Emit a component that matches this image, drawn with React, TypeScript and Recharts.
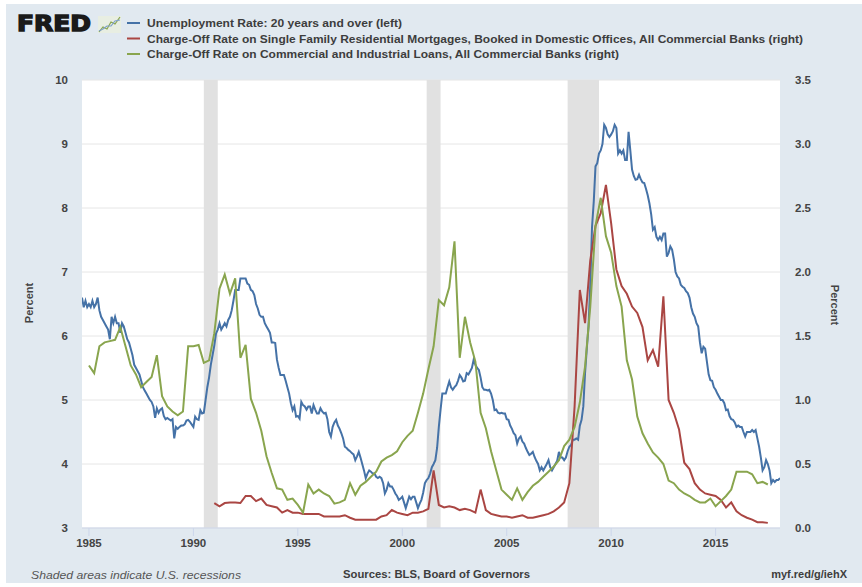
import { LineChart, Line, XAxis, YAxis, CartesianGrid, ReferenceArea } from 'recharts';

// Unemployment rate, 20 years and over (monthly, Sep 1984 - Feb 2018), percent
const unemployment = [
  // 1984 Sep-Dec
  6.6, 6.45, 6.55, 6.45,
  // 1985
  6.5, 6.45, 6.55, 6.45, 6.5, 6.6, 6.4, 6.3, 6.25, 6.2, 6.15, 6.1,
  // 1986
  5.95, 6.3, 6.2, 6.3, 6.2, 6.2, 6.05, 6.2, 6.15, 6.05, 5.95, 5.9,
  // 1987
  5.8, 5.7, 5.55, 5.5, 5.45, 5.4, 5.3, 5.2, 5.15, 5.1, 5.05, 5.0,
  // 1988
  4.97, 4.9, 4.72, 4.87, 4.8, 4.85, 4.87, 4.75, 4.7, 4.72, 4.7, 4.68,
  // 1989
  4.7, 4.4, 4.58, 4.55, 4.58, 4.6, 4.6, 4.62, 4.68, 4.69, 4.66, 4.62,
  // 1990
  4.58, 4.74, 4.7, 4.69, 4.84, 4.79, 4.8, 5.0, 5.2, 5.35, 5.55, 5.7,
  // 1991
  5.85, 6.04, 6.1, 6.2, 6.1, 6.15, 6.2, 6.15, 6.25, 6.3, 6.4, 6.55,
  // 1992
  6.72, 6.72, 6.72, 6.9, 6.9, 6.9, 6.9, 6.82, 6.8, 6.72, 6.7, 6.64,
  // 1993
  6.5, 6.43, 6.33, 6.3, 6.3, 6.2, 6.15, 6.1, 6.05, 5.9, 5.9, 5.89,
  // 1994
  5.63, 5.5, 5.39, 5.39, 5.39, 5.3, 5.2, 5.1, 4.95, 4.84, 4.9, 4.74,
  // 1995
  4.75, 4.71, 4.97, 4.92, 4.9, 4.85, 4.9, 4.9, 4.79, 4.92, 4.85, 4.79,
  // 1996
  4.79, 4.87, 4.82, 4.79, 4.8, 4.7, 4.5, 4.43, 4.58, 4.65, 4.69, 4.6,
  // 1997
  4.55, 4.48, 4.4, 4.27, 4.25, 4.22, 4.2, 4.17, 4.15, 4.06, 4.12, 4.19,
  // 1998
  4.1, 4.0, 3.9, 3.78, 3.85, 3.9, 3.88, 3.85, 3.85, 3.8, 3.78, 3.8,
  // 1999
  3.78, 3.7, 3.54, 3.6, 3.7, 3.65, 3.65, 3.6, 3.54, 3.5, 3.44, 3.46,
  // 2000
  3.49, 3.4, 3.31, 3.4, 3.49, 3.45, 3.49, 3.49, 3.4, 3.31, 3.38, 3.44,
  // 2001
  3.55, 3.7, 3.75, 3.78, 3.85, 3.95, 4.0, 4.06, 4.25, 4.58, 4.85, 5.1,
  // 2002
  5.1, 5.1, 5.2, 5.29, 5.2, 5.16, 5.2, 5.23, 5.3, 5.39, 5.35, 5.29,
  // 2003
  5.3, 5.42, 5.4, 5.45, 5.5, 5.63, 5.55, 5.5, 5.47, 5.35, 5.2, 5.16,
  // 2004
  5.16, 5.15, 5.16, 5.1, 5.0, 4.84, 4.85, 4.8, 4.79, 4.8, 4.79, 4.79,
  // 2005
  4.7, 4.69, 4.6, 4.55, 4.48, 4.45, 4.32, 4.4, 4.43, 4.35, 4.32, 4.25,
  // 2006
  4.19, 4.14, 4.16, 4.19, 4.11, 4.05, 4.0, 3.9, 3.95, 3.9, 3.95, 4.0,
  // 2007
  4.06, 3.95, 3.9, 3.95, 4.0, 4.05, 4.19, 4.1, 4.1, 4.06, 4.1, 4.2,
  // 2008
  4.27, 4.3, 4.38, 4.38, 4.4, 4.38, 4.6, 4.69, 4.9, 5.42, 5.8, 6.15,
  // 2009
  6.8, 7.7, 8.1, 8.65, 8.7, 8.85, 8.9, 9.0, 9.3, 9.25, 9.15, 9.11,
  // 2010
  9.15, 9.2, 9.3, 9.25, 8.85, 8.9, 8.85, 8.9, 8.75, 8.75, 9.19, 8.9,
  // 2011
  8.6, 8.5, 8.44, 8.45, 8.52, 8.45, 8.4, 8.39, 8.3, 8.2, 8.07, 7.9,
  // 2012
  7.66, 7.7, 7.55, 7.5, 7.55, 7.5, 7.6, 7.6, 7.24, 7.3, 7.4, 7.35,
  // 2013
  7.2, 7.0, 6.93, 6.9, 6.8, 6.77, 6.75, 6.7, 6.67, 6.6, 6.45, 6.35,
  // 2014
  6.3, 6.2, 6.15, 5.9, 5.73, 5.83, 5.8, 5.6, 5.4, 5.31, 5.3, 5.2,
  // 2015
  5.16, 5.1, 5.05, 5.0, 5.0, 4.95, 4.84, 4.85, 4.75, 4.7, 4.69, 4.65,
  // 2016
  4.58, 4.6, 4.58, 4.58, 4.5, 4.43, 4.5, 4.5, 4.5, 4.53, 4.5, 4.53,
  // 2017
  4.4, 4.27, 4.1, 3.9, 3.95, 4.06, 4.0, 3.9, 3.7, 3.75, 3.72, 3.75,
  // 2018 Jan-Feb
  3.75, 3.78,
];

// Charge-off rate on single family residential mortgages (quarterly, 1991Q1 - 2017Q3)
const mortgageChargeOff = [
  0.195, 0.17, 0.195, 0.2, // 1991
  0.2, 0.195, 0.25, 0.25, // 1992
  0.21, 0.23, 0.18, 0.17, // 1993
  0.16, 0.12, 0.14, 0.12, // 1994
  0.12, 0.11, 0.11, 0.11, // 1995
  0.11, 0.09, 0.09, 0.09, // 1996
  0.09, 0.1, 0.08, 0.065, // 1997
  0.065, 0.065, 0.065, 0.065, // 1998
  0.09, 0.1, 0.14, 0.12, // 1999
  0.11, 0.1, 0.12, 0.12, // 2000
  0.13, 0.15, 0.45, 0.18, // 2001
  0.16, 0.17, 0.16, 0.14, // 2002
  0.15, 0.14, 0.12, 0.3, // 2003
  0.14, 0.11, 0.1, 0.09, // 2004
  0.09, 0.08, 0.09, 0.1, // 2005
  0.08, 0.08, 0.09, 0.1, // 2006
  0.11, 0.13, 0.16, 0.2, // 2007
  0.35, 0.95, 1.86, 1.6, // 2008
  2.09, 2.36, 2.46, 2.68, // 2009
  2.38, 2.02, 1.89, 1.83, // 2010
  1.73, 1.68, 1.57, 1.31, // 2011
  1.39, 1.26, 1.81, 1.0, // 2012
  0.9, 0.77, 0.51, 0.46, // 2013
  0.35, 0.3, 0.27, 0.26, // 2014
  0.25, 0.22, 0.16, 0.2, // 2015
  0.13, 0.1, 0.08, 0.065, // 2016
  0.045, 0.045, 0.04, // 2017
];

// Charge-off rate on commercial and industrial loans (quarterly, 1985Q1 - 2017Q3)
const ciLoanChargeOff = [
  1.27, 1.21, 1.42, 1.45, // 1985
  1.46, 1.47, 1.57, 1.42, // 1986
  1.27, 1.2, 1.1, 1.14, // 1987
  1.18, 1.35, 1.03, 0.95, // 1988
  0.91, 0.88, 0.91, 1.42, // 1989
  1.42, 1.43, 1.29, 1.31, // 1990
  1.52, 1.87, 1.98, 1.83, // 1991
  1.95, 1.33, 1.43, 1.01, // 1992
  0.9, 0.76, 0.56, 0.43, // 1993
  0.31, 0.3, 0.22, 0.23, // 1994
  0.18, 0.12, 0.34, 0.27, // 1995
  0.3, 0.27, 0.25, 0.19, // 1996
  0.2, 0.22, 0.35, 0.26, // 1997
  0.33, 0.36, 0.4, 0.44, // 1998
  0.52, 0.55, 0.57, 0.6, // 1999
  0.67, 0.72, 0.76, 0.9, // 2000
  1.05, 1.24, 1.42, 1.78, // 2001
  1.74, 1.88, 2.24, 1.33, // 2002
  1.65, 1.45, 1.3, 0.9, // 2003
  0.78, 0.6, 0.45, 0.3, // 2004
  0.26, 0.22, 0.31, 0.22, // 2005
  0.28, 0.33, 0.36, 0.4, // 2006
  0.44, 0.48, 0.53, 0.64, // 2007
  0.69, 0.79, 0.98, 1.26, // 2008
  1.73, 2.36, 2.58, 2.28, // 2009
  2.15, 1.89, 1.73, 1.31, // 2010
  1.16, 0.87, 0.74, 0.66, // 2011
  0.59, 0.55, 0.5, 0.37, // 2012
  0.35, 0.3, 0.27, 0.25, // 2013
  0.22, 0.2, 0.2, 0.23, // 2014
  0.17, 0.21, 0.25, 0.3, // 2015
  0.44, 0.44, 0.44, 0.42, // 2016
  0.35, 0.36, 0.34, // 2017
];

// US recessions (peak month -> trough month), as fractional years
const recessions: [number, number][] = [
  [1990.5, 1991.167],
  [2001.167, 2001.833],
  [2007.917, 2009.417],
];

const yearTicks = [1985, 1990, 1995, 2000, 2005, 2010, 2015];
const leftTicks = [3, 4, 5, 6, 7, 8, 9, 10];
const rightTicks = [0, 0.5, 1, 1.5, 2, 2.5, 3, 3.5];

const legendItems = [
  { label: 'Unemployment Rate: 20 years and over (left)', color: '#4572a7', width: 255 },
  {
    label: 'Charge-Off Rate on Single Family Residential Mortgages, Booked in Domestic Offices, All Commercial Banks (right)',
    color: '#aa4643',
    width: 656,
  },
  { label: 'Charge-Off Rate on Commercial and Industrial Loans, All Commercial Banks (right)', color: '#89a54e', width: 472 },
];

const unempPoints = unemployment.map((v, i) => ({ x: 1984 + (8 + i) / 12, v }));
const mortgagePoints = mortgageChargeOff.map((v, i) => ({ x: 1991 + i / 4, v }));
const ciPoints = ciLoanChargeOff.map((v, i) => ({ x: 1985 + i / 4, v }));

const FONT = '"Liberation Sans", Arial, Helvetica, sans-serif';
const tickStyle = { fill: '#444', fontSize: 11.5, fontWeight: 700, fontFamily: FONT };

export default function App() {
  return (
    <div style={{ position: 'absolute', left: 0, top: 0, width: 862, height: 587, background: '#fff', overflow: 'hidden' }}>
      <div style={{ position: 'absolute', left: 6, top: 4, width: 856, height: 579, background: '#e1e9f0' }} />
      <div style={{ position: 'absolute', left: 0, top: 0 }}>
        <LineChart width={862} height={587} margin={{ top: 80, right: 0, bottom: 29, left: 0 }}>
          <CartesianGrid yAxisId="left" vertical={false} fill="#ffffff" stroke="#e6e6e6" />
          <XAxis
            type="number"
            dataKey="x"
            domain={[1984.667, 2018.083]}
            ticks={yearTicks}
            interval={0}
            allowDataOverflow
            height={30}
            tickSize={8}
            tickMargin={3}
            tickLine={{ stroke: '#ccd6eb' }}
            axisLine={{ stroke: '#ccd6eb' }}
            tick={tickStyle}
          />
          <YAxis
            yAxisId="left"
            orientation="left"
            type="number"
            domain={[3, 10]}
            ticks={leftTicks}
            interval={0}
            width={82}
            tickSize={0}
            tickMargin={14}
            axisLine={false}
            tickLine={false}
            tick={tickStyle}
          />
          <YAxis
            yAxisId="right"
            orientation="right"
            type="number"
            domain={[0, 3.5]}
            ticks={rightTicks}
            interval={0}
            width={82}
            tickSize={0}
            tickMargin={15}
            axisLine={false}
            tickLine={false}
            tick={tickStyle}
            tickFormatter={(v: number) => v.toFixed(1)}
          />
          {recessions.map(([a, b]) => (
            <ReferenceArea key={a} yAxisId="left" x1={a} x2={b} fill="#e1e1e1" fillOpacity={1} stroke="none" ifOverflow="hidden" />
          ))}
          <Line yAxisId="left" data={unempPoints} dataKey="v" type="linear" stroke="#4572a7" strokeWidth={2} dot={false} isAnimationActive={false} />
          <Line yAxisId="right" data={mortgagePoints} dataKey="v" type="linear" stroke="#aa4643" strokeWidth={2} dot={false} isAnimationActive={false} />
          <Line yAxisId="right" data={ciPoints} dataKey="v" type="linear" stroke="#89a54e" strokeWidth={2} dot={false} isAnimationActive={false} />
        </LineChart>
      </div>
      <svg width={862} height={587} style={{ position: 'absolute', left: 0, top: 0, pointerEvents: 'none' }}>
        <text
          x={17}
          y={31}
          fontSize={21}
          fontWeight={900}
          fontFamily='"DejaVu Sans", sans-serif'
          fill="#1a1a1a"
          stroke="#1a1a1a"
          strokeWidth={1.4}
          textLength={74}
          lengthAdjust="spacingAndGlyphs"
        >
          FRED
        </text>
        <rect x={98} y={16} width={23} height={17} fill="#e8eee2" />
        <polyline points="99,32 103,27 107,29 111,22 115,24 120,17" fill="none" stroke="#89a54e" strokeWidth={1.2} />
        <polyline points="99,31 103,29 107,26 111,26 115,21 120,20" fill="none" stroke="#7fa1c9" strokeWidth={1.2} />
        {legendItems.map((item, i) => (
          <g key={item.label}>
            <line x1={127} x2={140} y1={23 + i * 15.5} y2={23 + i * 15.5} stroke={item.color} strokeWidth={2} />
            <text
              x={147}
              y={27 + i * 15.5}
              fontSize={11}
              fontWeight={700}
              fontFamily={FONT}
              fill="#3d3d3d"
              textLength={item.width}
              lengthAdjust="spacingAndGlyphs"
            >
              {item.label}
            </text>
          </g>
        ))}
        <text transform="translate(33,303) rotate(-90)" textAnchor="middle" fontSize={11} fontWeight={700} fontFamily={FONT} fill="#444">
          Percent
        </text>
        <text transform="translate(831,305) rotate(90)" textAnchor="middle" fontSize={11} fontWeight={700} fontFamily={FONT} fill="#444">
          Percent
        </text>
        <text x={31} y={579} fontSize={11.5} fontStyle="italic" fontFamily={FONT} fill="#555" textLength={210} lengthAdjust="spacingAndGlyphs">
          Shaded areas indicate U.S. recessions
        </text>
        <text x={343} y={578} fontSize={11} fontWeight={700} fontFamily={FONT} fill="#3d3d3d" textLength={187} lengthAdjust="spacingAndGlyphs">
          Sources: BLS, Board of Governors
        </text>
        <text x={847} y={578} textAnchor="end" fontSize={11} fontWeight={700} fontFamily={FONT} fill="#3d3d3d">
          myf.red/g/iehX
        </text>
      </svg>
    </div>
  );
}
